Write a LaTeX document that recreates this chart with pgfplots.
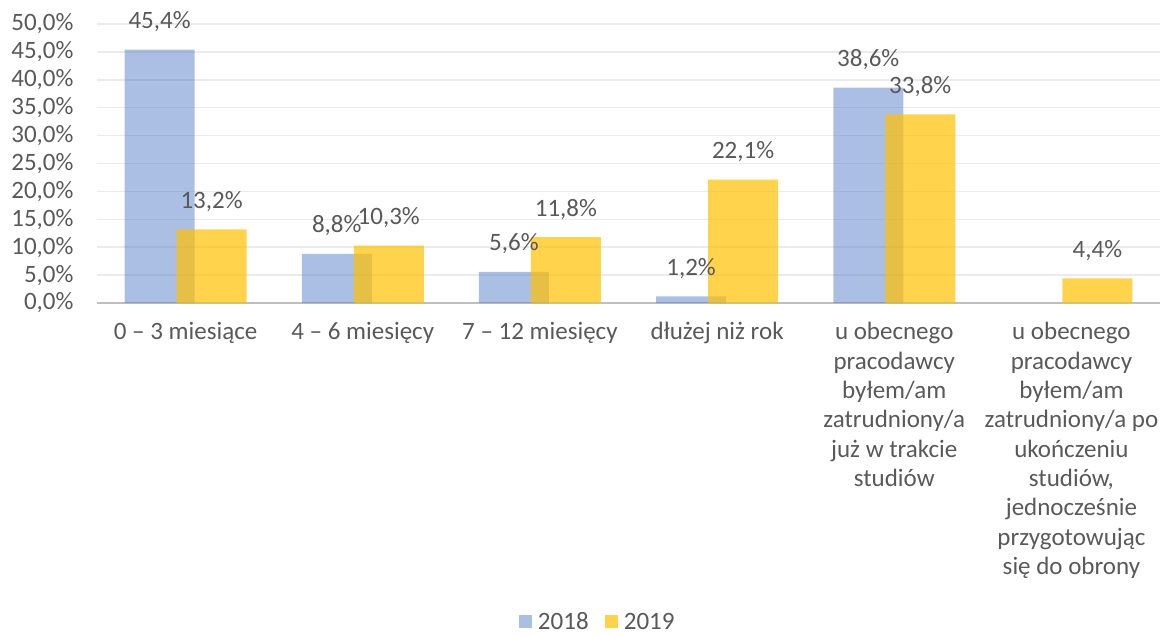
\documentclass[border=0pt]{standalone}
\usepackage{pgfplots}
\pgfplotsset{compat=1.18}
\usepackage{fontspec}
\setmainfont{Carlito}
\usetikzlibrary{calc}
\definecolor{txt}{HTML}{595959}
\definecolor{grd}{HTML}{EBEBEB}
\definecolor{axl}{HTML}{BFBFBF}
\definecolor{c18}{HTML}{4472C4}
\definecolor{c19}{HTML}{FFC000}
\begin{document}
\begin{tikzpicture}
\begin{axis}[
  scale only axis,
  width=1063pt, height=279pt,
  xmin=-0.5, xmax=5.5,
  ymin=0, ymax=50,
  ybar, bar width=70pt,
  axis x line*=bottom, axis y line*=left,
  x axis line style={draw=axl, line width=2.5pt},
  y axis line style={draw=none},
  ytick={0,5,...,50},
  yticklabels={{0,0\%},{5,0\%},{10,0\%},{15,0\%},{20,0\%},{25,0\%},{30,0\%},{35,0\%},{40,0\%},{45,0\%},{50,0\%}},
  ymajorgrids, grid style={draw=grd, line width=1.5pt},
  major tick length=0pt,
  xtick={0,...,5},
  xticklabels={{0 – 3 miesiące},{4 – 6 miesięcy},{7 – 12 miesięcy},{dłużej niż rok},
    {u obecnego\\pracodawcy\\byłem/am\\zatrudniony/a\\już w trakcie\\studiów},
    {u obecnego\\pracodawcy\\byłem/am\\zatrudniony/a po\\ukończeniu\\studiów,\\jednocześnie\\przygotowując\\się do obrony}},
  xticklabel style={align=center, font=\fontsize{25}{29.3}\selectfont, text=txt, yshift=-16pt},
  yticklabel style={font=\fontsize{25}{29}\selectfont, text=txt, xshift=-20pt},
  nodes near coords,
  point meta=explicit symbolic,
  nodes near coords style={font=\fontsize{25}{29}\selectfont, text=txt, anchor=center, yshift=28pt},
  legend style={at={(0.471,-1.143)}, anchor=center, draw=none, legend columns=2,
    font=\fontsize{25}{29}\selectfont, text=txt,
    /tikz/every even column/.append style={column sep=14pt}},
  legend image code/.code={\fill[#1] (0pt,-6.5pt) rectangle (13pt,6.5pt);},
  clip=false,
]
\addplot[fill=c18, fill opacity=0.45, draw=none, bar shift=-26pt, text opacity=1] table[meta=l] {
x y l
0 45.4 {45,4\%}
1 8.8 {8,8\%}
2 5.6 {5,6\%}
3 1.2 {1,2\%}
4 38.6 {38,6\%}
};
\addplot[fill=c19, fill opacity=0.7, draw=none, bar shift=26pt, text opacity=1] table[meta=l] {
x y l
0 13.2 {13,2\%}
1 10.3 {10,3\%}
2 11.8 {11,8\%}
3 22.1 {22,1\%}
4 33.8 {33,8\%}
5 4.4 {4,4\%}
};
\legend{\,2018,\,2019}
\coordinate (O) at (rel axis cs:0,0);
\coordinate (T) at (rel axis cs:1,1);
\end{axis}
\path ($(O)+(-97pt,-327pt)$) rectangle ($(T)+(2pt,24pt)$);
\end{tikzpicture}
\end{document}
